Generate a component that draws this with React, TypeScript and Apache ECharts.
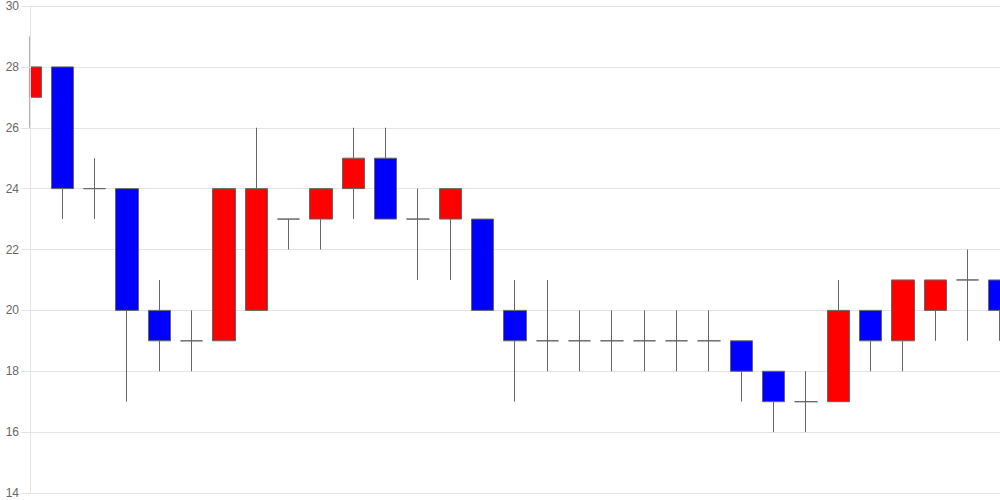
import React, { useEffect, useRef } from "react";
import * as echarts from "echarts";

const categories: string[] = Array.from({ length: 31 }, (_, i) => String(i + 1));
const opens = [27, 28, 24, 24, 20, 19, 19, 20, 23, 23, 24, 25, 23, 23, 23, 20, 19, 19, 19, 19, 19, 19, 19, 18, 17, 17, 20, 19, 20, 21, 21];
const closes = [28, 24, 24, 20, 19, 19, 24, 24, 23, 24, 25, 23, 23, 24, 20, 19, 19, 19, 19, 19, 19, 19, 18, 17, 17, 20, 19, 21, 21, 21, 20];
const lows = [26, 23, 23, 17, 18, 18, 19, 20, 22, 22, 23, 23, 21, 21, 20, 17, 18, 18, 18, 18, 18, 18, 17, 16, 16, 17, 18, 18, 19, 19, 19];
const highs = [29, 28, 25, 24, 21, 20, 24, 26, 23, 24, 26, 26, 24, 24, 23, 21, 21, 20, 20, 20, 20, 20, 19, 18, 18, 21, 20, 21, 21, 22, 21];
const yTicks = [14, 16, 18, 20, 22, 24, 26, 28, 30];

export default function App() {
  const ref = useRef<HTMLDivElement>(null);
  useEffect(() => {
    if (!ref.current) return;
    const chart = echarts.init(ref.current, null, { renderer: "svg" });
    const data = opens.map((o, i) => [o, closes[i], lows[i], highs[i]]);
    const yMin = yTicks[0];
    const yMax = yTicks[yTicks.length - 1];
    chart.setOption({
      animation: false,
      grid: { left: 30, right: 0, top: 6, bottom: 7, containLabel: false },
      graphic: [
        {
          type: "rect",
          z: 5,
          shape: { x: 0, y: 0, width: 29.5, height: 500 },
          style: { fill: "#fff" },
          silent: true,
        },
      ],
      xAxis: {
        type: "category",
        data: categories,
        boundaryGap: false,
        axisLine: { show: false },
        axisTick: { show: false },
        axisLabel: { show: false },
        splitLine: { show: false },
      },
      yAxis: [
        {
          type: "value",
          z: 0,
          min: yMin,
          max: yMax,
          interval: 2,
          axisLine: { show: false },
          axisTick: { show: false },
          axisLabel: { show: false },
          splitLine: { show: true, lineStyle: { color: "#e4e4e4", width: 1 } },
        },
        {
          type: "value",
          position: "left",
          z: 10,
          min: yMin,
          max: yMax,
          interval: 2,
          axisLine: { show: true, lineStyle: { color: "#e4e4e4", width: 1 } },
          axisTick: { show: true, length: 9, lineStyle: { color: "#e4e4e4" } },
          axisLabel: { color: "#666", fontSize: 12, margin: 11, fontFamily: "Arial, Liberation Sans, sans-serif" },
          splitLine: { show: false },
        },
      ],
      series: [
        {
          type: "candlestick",
          data,
          yAxisIndex: 0,
          barWidth: 23,
          z: 2,
          itemStyle: {
            color: "#ff0000",
            color0: "#0000ff",
            borderColor: "#666",
            borderColor0: "#666",
            borderWidth: 1,
          },
        },
      ],
    });
    return () => chart.dispose();
  }, []);
  return (
    <div
      ref={ref}
      style={{ position: "absolute", left: 0, top: 0, width: 1000, height: 500 }}
    />
  );
}
